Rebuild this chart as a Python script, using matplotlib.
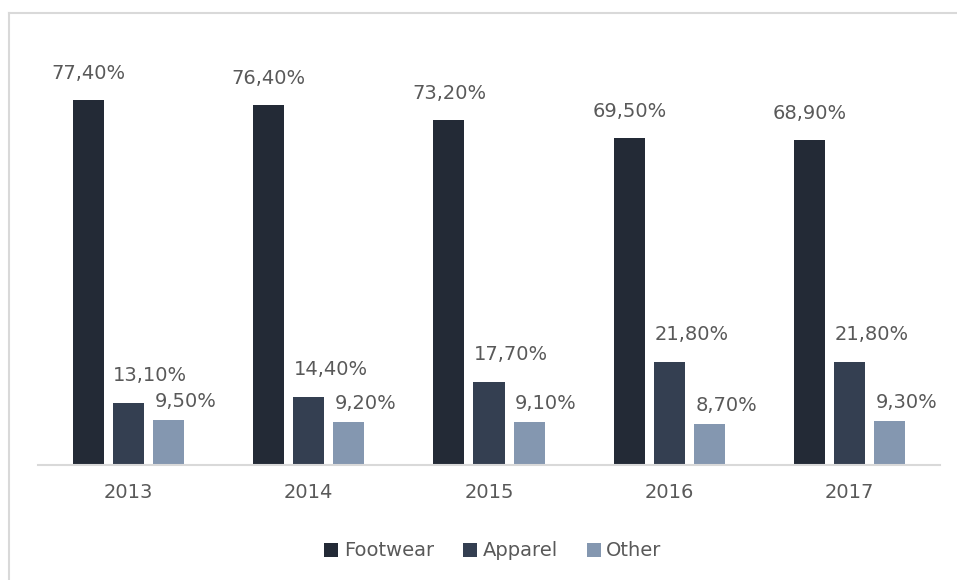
import numpy as np
import matplotlib
matplotlib.use("Agg")
import matplotlib.pyplot as plt
from matplotlib.lines import Line2D

# Revenue share by segment
years = ["2013", "2014", "2015", "2016", "2017"]
footwear = [77.40, 76.40, 73.20, 69.50, 68.90]
apparel = [13.10, 14.40, 17.70, 21.80, 21.80]
other = [9.50, 9.20, 9.10, 8.70, 9.30]

series = [
    ("Footwear", footwear, "#232a36", 0, 17),
    ("Apparel", apparel, "#343f51", 22, 18),
    ("Other", other, "#8497b0", 17, 9),
]

text_color = "#595959"
plt.rcParams['font.family'] = ['DejaVu Sans']

fig = plt.figure(figsize=(9.57, 5.8), dpi=100)
ax = fig.add_axes([38 / 957, 1 - 465 / 580, 902 / 957, 424 / 580])

x = np.arange(len(years))
width = 0.172
step = 0.222

for i, (name, vals, color, dx, gap) in enumerate(series):
    pos = x + (i - 1) * step
    bars = ax.bar(pos, vals, width, color=color, label=name, zorder=2)
    for b, v in zip(bars, vals):
        label = f"{v:.2f}%".replace(".", ",")
        ax.annotate(label, (b.get_x() + b.get_width() / 2, v),
                    xytext=(dx * 0.72, gap * 0.72), textcoords="offset points",
                    ha="center", va="bottom", fontsize=14, color=text_color)

ax.set_xlim(-0.5, len(years) - 0.5)
ax.set_ylim(0, 90)
ax.set_xticks(x)
ax.set_xticklabels(years, fontsize=14, color=text_color)
ax.set_yticks([])
ax.tick_params(axis="x", length=0, pad=13)
for side in ["top", "right", "left"]:
    ax.spines[side].set_visible(False)
ax.spines["bottom"].set_color("#d9d9d9")
ax.spines["bottom"].set_linewidth(1.5)

leg = fig.legend(loc="center", bbox_to_anchor=(493 / 957, 1 - 551 / 580), ncol=3,
                 frameon=False, fontsize=14, handlelength=0.7, handleheight=0.7,
                 handletextpad=0.3, columnspacing=1.5)
for t in leg.get_texts():
    t.set_color(text_color)

# light frame along top and left edges
fig.add_artist(Line2D([8.5 / 957, 1.01], [1 - 12.5 / 580, 1 - 12.5 / 580],
                      transform=fig.transFigure, color="#d9d9d9", linewidth=1.5))
fig.add_artist(Line2D([8.5 / 957, 8.5 / 957], [-0.01, 1 - 12.5 / 580],
                      transform=fig.transFigure, color="#d9d9d9", linewidth=1.5))

fig.savefig("out.png", dpi=100, facecolor="white")
